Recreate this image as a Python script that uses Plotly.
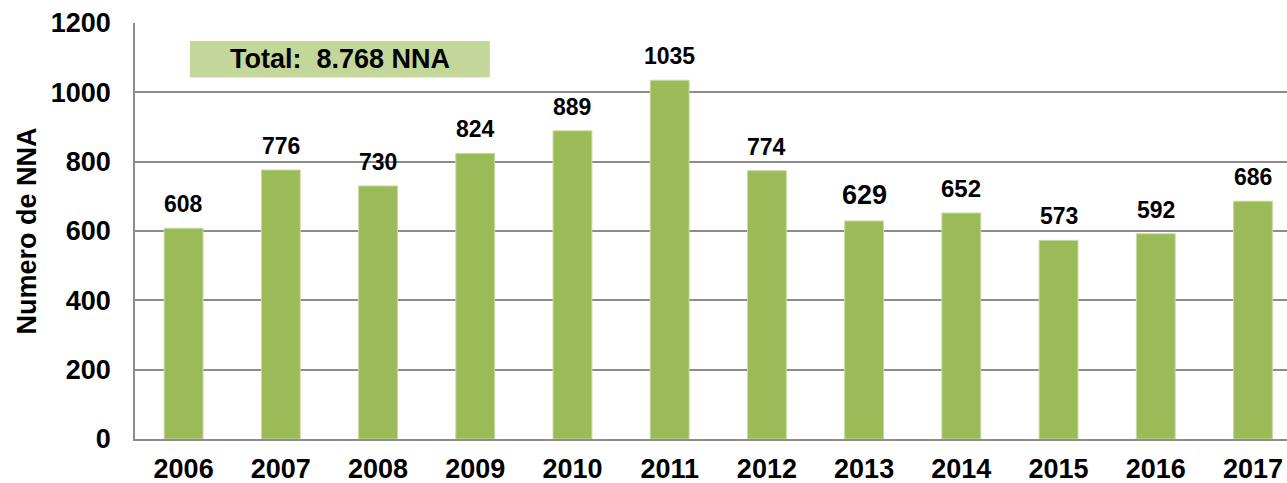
import plotly.graph_objects as go

years = ["2006", "2007", "2008", "2009", "2010", "2011", "2012", "2013", "2014", "2015", "2016", "2017"]
values = [608, 776, 730, 824, 889, 1035, 774, 629, 652, 573, 592, 686]
label_sizes = [23, 23, 23, 23, 23, 23, 23, 27, 24, 23, 23, 23]
y_ticks = [0, 200, 400, 600, 800, 1000, 1200]
total_text = "Total:  8.768 NNA"
y_title = "Numero de NNA"

FONT = "Liberation Sans, Arial, sans-serif"
GREEN = "#9BBB59"
GRID = "#8C8C8C"

fig = go.Figure()
fig.add_trace(go.Bar(
    x=years, y=values,
    marker=dict(color=GREEN, line=dict(color="#C9DBA3", width=1)),
    width=0.4,
    hoverinfo="x+y",
))

for i, (v, s) in enumerate(zip(values, label_sizes)):
    fig.add_annotation(
        xref="x", yref="y", x=i, y=v, text=str(v), showarrow=False,
        xanchor="center", yanchor="middle", yshift=24 + (s - 23) * 0.6,
        font=dict(family=FONT, size=s, color="black", weight="bold"),
    )

fig.add_shape(type="rect", xref="paper", yref="paper",
              x0=0.0477, x1=0.308, y0=0.869, y1=0.957,
              fillcolor="#C4D79B", line=dict(width=0), layer="above")
fig.add_annotation(xref="paper", yref="paper", x=0.178, y=0.913,
                   text=total_text, showarrow=False,
                   xanchor="center", yanchor="middle",
                   font=dict(family=FONT, size=27, color="black", weight="bold"))

fig.update_layout(
    width=1287, height=483,
    margin=dict(l=135, r=0, t=23, b=44),
    paper_bgcolor="white", plot_bgcolor="white",
    showlegend=False, bargap=0.6,
    font=dict(family=FONT, color="black"),
    xaxis=dict(
        type="category", range=[-0.5, 11.35], automargin=False,
        showgrid=False, showline=True, linecolor=GRID, linewidth=1.5,
        ticks="", tickfont=dict(family=FONT, size=27, color="black", weight="bold"),
        ticklabelstandoff=5,
    ),
    yaxis=dict(
        range=[0, 1200], tickvals=y_ticks, automargin=False,
        showgrid=True, gridcolor=GRID, gridwidth=1.5,
        showline=True, linecolor=GRID, linewidth=1.5,
        zeroline=False, ticks="",
        tickfont=dict(family=FONT, size=27, color="black", weight="bold"),
        ticklabelstandoff=17,
        title=dict(text=y_title, standoff=6,
                   font=dict(family=FONT, size=27, color="black", weight="bold")),
    ),
)

fig.write_html("out.html", config={"displayModeBar": False},
               post_script="document.body.style.margin='0';document.body.style.overflow='hidden';")
